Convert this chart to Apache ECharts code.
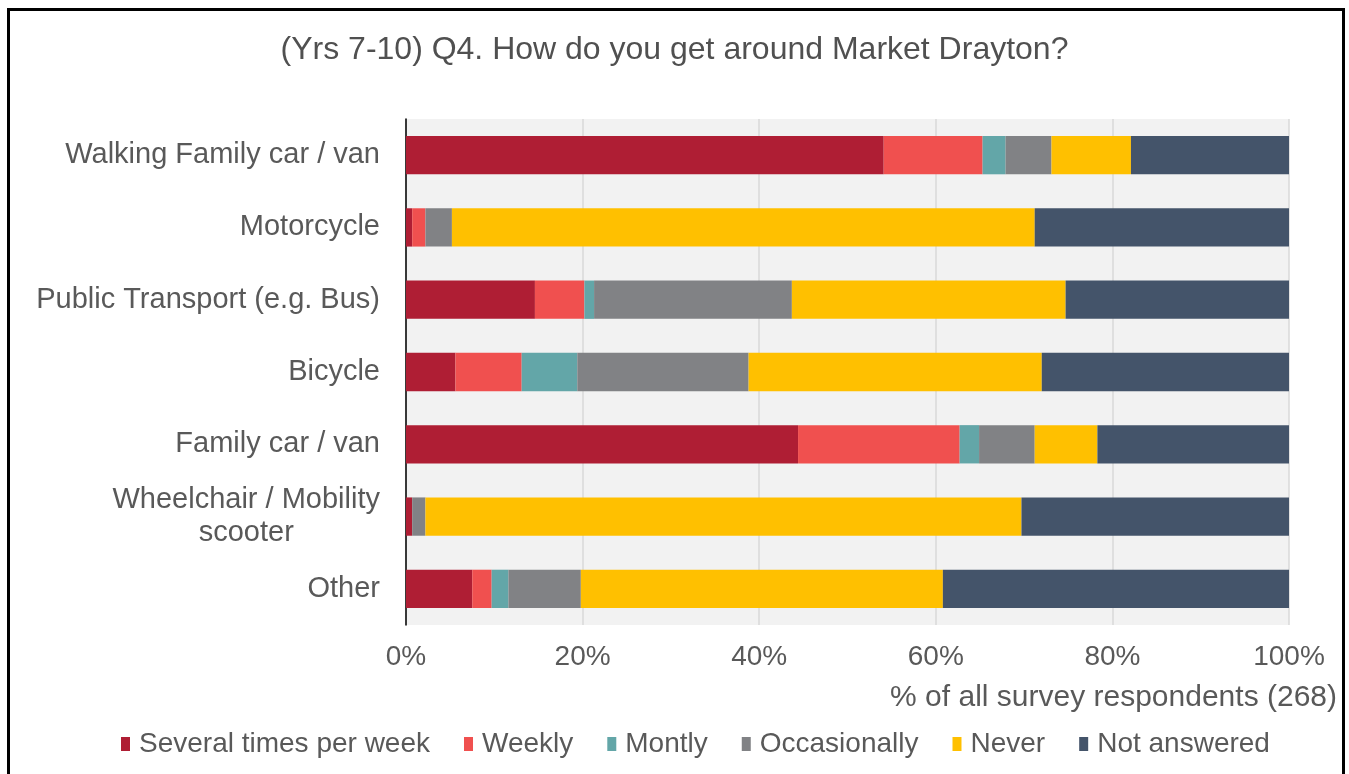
<!DOCTYPE html>
<html>
<head>
<meta charset="utf-8">
<script src="https://cdn.jsdelivr.net/npm/echarts@6/dist/echarts.min.js"></script>
<style>
  html, body { margin: 0; padding: 0; background: #fff; }
  #frame {
    position: absolute; left: 7px; top: 8px; width: 1332px; height: 800px;
    border-top: 3px solid #000; border-left: 3px solid #000; border-right: 3px solid #000;
  }
  #chart { position: absolute; left: 0; top: 0; width: 1349px; height: 774px; }
</style>
</head>
<body>
<div id="frame"></div>
<div id="chart"></div>
<script>
// categories, top to bottom
const modes = [
  'Walking Family car / van',
  'Motorcycle',
  'Public Transport (e.g. Bus)',
  'Bicycle',
  'Family car / van',
  'Wheelchair / Mobility\nscooter',
  'Other'
];

// % of all survey respondents (268), one array per answer
const severalPerWeek = [54.1, 0.7, 14.6, 5.6, 44.4, 0.7, 7.5];
const weekly         = [11.2, 1.5, 5.6, 7.5, 18.3, 0.0, 2.2];
const montly         = [2.6, 0.0, 1.1, 6.3, 2.2, 0.0, 1.9];
const occasionally   = [5.2, 3.0, 22.4, 19.4, 6.3, 1.5, 8.2];
const never          = [9.0, 66.0, 31.0, 33.2, 7.1, 67.5, 41.0];
const notAnswered    = [17.9, 28.8, 25.3, 28.0, 21.7, 30.3, 39.2];

const xTicks = [0, 20, 40, 60, 80, 100];

const seriesDefs = [
  { name: 'Several times per week', data: severalPerWeek, color: '#AF1E34' },
  { name: 'Weekly', data: weekly, color: '#F0504F' },
  { name: 'Montly', data: montly, color: '#63A6A8' },
  { name: 'Occasionally', data: occasionally, color: '#818285' },
  { name: 'Never', data: never, color: '#FFC000' },
  { name: 'Not answered', data: notAnswered, color: '#44546A' }
];

const textColor = '#595959';
const font = 'Liberation Sans';

const chart = echarts.init(document.getElementById('chart'));

chart.setOption({
  animation: false,
  textStyle: { fontFamily: font },
  title: {
    text: '(Yrs 7-10) Q4. How do you get around Market Drayton?',
    left: 'center',
    top: 29,
    textStyle: { fontSize: 32, fontWeight: 'normal', color: '#505050', fontFamily: font }
  },
  legend: {
    bottom: 11,
    left: 116,
    itemWidth: 9,
    itemHeight: 14,
    itemGap: 34,
    icon: 'rect',
    textStyle: { fontSize: 28, color: textColor, fontFamily: font, padding: [0, 0, 0, 4] },
    data: seriesDefs.map(s => s.name)
  },
  grid: {
    left: 406,
    right: 60,
    top: 119,
    height: 506,
    show: true,
    backgroundColor: '#F2F2F2',
    borderWidth: 0
  },
  xAxis: {
    type: 'value',
    min: 0,
    max: 100,
    interval: 20,
    name: '% of all survey respondents (268)',
    nameLocation: 'end',
    nameGap: 0,
    nameTextStyle: {
      fontSize: 30, color: textColor, fontFamily: font,
      align: 'right', verticalAlign: 'top', padding: [58, -48, 0, 0]
    },
    axisLine: { show: false },
    axisTick: { show: false },
    axisLabel: {
      fontSize: 28, color: textColor, fontFamily: font, margin: 18,
      formatter: v => (xTicks.includes(v) ? v + '%' : '')
    },
    splitLine: { show: true, lineStyle: { color: '#D9D9D9', width: 1.5 } }
  },
  yAxis: {
    type: 'category',
    inverse: true,
    data: modes,
    axisLine: { show: true, lineStyle: { color: '#000', width: 1.5 } },
    axisTick: { show: false },
    axisLabel: {
      fontSize: 29, color: textColor, fontFamily: font, margin: 26,
      formatter: v => v.indexOf('\n') >= 0
        ? v.split('\n').map(l => '{c|' + l + '}').join('\n')
        : v,
      rich: {
        c: { fontSize: 29, color: textColor, fontFamily: font, align: 'center', lineHeight: 33 }
      }
    }
  },
  series: seriesDefs.map(s => ({
    name: s.name,
    type: 'bar',
    stack: 'total',
    barCategoryGap: '47%',
    data: s.data,
    itemStyle: { color: s.color }
  }))
});
</script>
</body>
</html>
